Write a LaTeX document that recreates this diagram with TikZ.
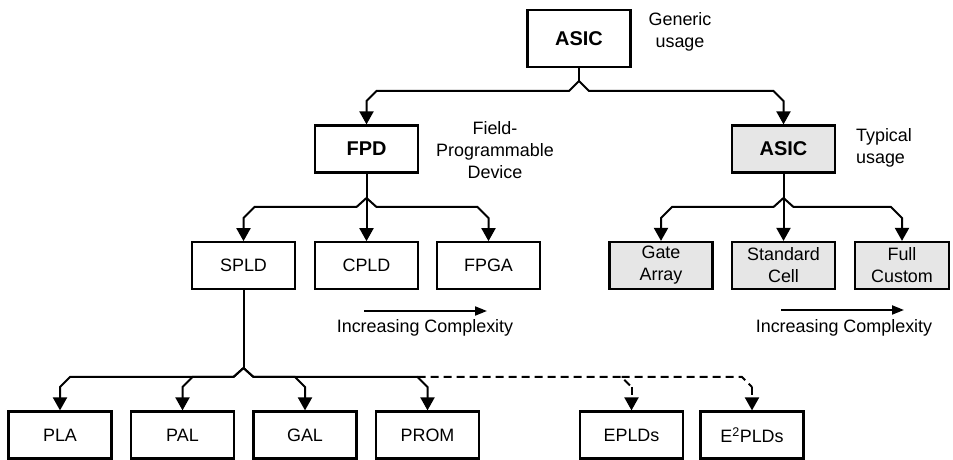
\documentclass[tikz,border=0pt]{standalone}
\usepackage{fontspec}
\setmainfont{Liberation Sans}
\usetikzlibrary{arrows.meta}
\definecolor{boxgray}{RGB}{230,230,230}
\tikzset{
  box/.style={draw=black, line width=2.2bp, minimum width=103bp, minimum height=47bp, inner sep=0pt,
    font=\fontsize{18}{22}\selectfont, align=center},
  thinbox/.style={box, line width=1.7bp},
  bigbox/.style={box, font=\fontsize{20}{24}\selectfont\bfseries},
  grayfill/.style={fill=boxgray},
  conn/.style={line width=2bp, line join=miter},
  tipped/.style={conn, -{Triangle[length=13bp,width=14bp]}},
  dconn/.style={conn, dash pattern=on 8bp off 5bp},
  dtipped/.style={dconn, -{Triangle[length=13bp,width=14bp]}},
  lbl/.style={font=\fontsize{18}{22}\selectfont, align=center, inner sep=0pt},
  cplx/.style={line width=2bp, -{Triangle[length=12bp,width=9bp]}}
}
\begin{document}
\begin{tikzpicture}[x=1bp,y=-1bp]
\useasboundingbox (0,0) rectangle (953,460);
% top level
\node[bigbox, minimum height=57bp] (asic) at (579,38.5) {ASIC};
\node[lbl] (generic) at (680,32) {Generic\\usage};
% second level
\node[bigbox] (fpd) at (366.5,149) {FPD};
\node[lbl] (fpdlbl) at (495,150) {Field-\\Programmable\\Device};
\node[bigbox, grayfill] (asic2) at (783.5,149) {ASIC};
\node[lbl, align=left] (typical) at (884,148) {Typical\\usage};
% third level
\node[thinbox] (spld) at (243.5,265.5) {SPLD};
\node[thinbox] (cpld) at (366.5,265.5) {CPLD};
\node[thinbox] (fpga) at (488.5,265.5) {FPGA};
\node[box, grayfill] (gate) at (661,265.5) {Gate\\Array};
\node[box, grayfill] (std) at (783.5,265.5) {Standard\\Cell};
\node[box, grayfill, minimum width=94bp] (full) at (902,265.5) {Full\\Custom};
% fourth level
\node[box] (pla) at (60,435) {PLA};
\node[box] (pal) at (182.5,435) {PAL};
\node[box] (gal) at (305,435) {GAL};
\node[box] (prom) at (427.5,435) {PROM};
\node[box] (epld) at (631.5,435) {EPLDs};
\node[box] (e2pld) at (752,435) {E\textsuperscript{2}PLDs};
% top connectors
\coordinate (j0) at (579,81);
\draw[conn] (asic.south) -- (j0);
\draw[tipped] (j0) -- (569,91) -- (376.5,91) -- (366.5,101) -- (fpd.north);
\draw[tipped] (j0) -- (589,91) -- (773.5,91) -- (783.5,101) -- (asic2.north);
% FPD connectors
\coordinate (j1) at (366.5,198);
\draw[conn] (fpd.south) -- (j1);
\draw[tipped] (j1) -- (356.5,207) -- (254.5,207) -- (243.5,218) -- (spld.north);
\draw[tipped] (j1) -- (cpld.north);
\draw[tipped] (j1) -- (376.5,207) -- (477.5,207) -- (488.5,218) -- (fpga.north);
% ASIC connectors
\coordinate (j2) at (783.5,198);
\draw[conn] (asic2.south) -- (j2);
\draw[tipped] (j2) -- (773.5,207) -- (672,207) -- (661,218) -- (gate.north);
\draw[tipped] (j2) -- (std.north);
\draw[tipped] (j2) -- (793.5,207) -- (891,207) -- (902,218) -- (full.north);
% SPLD connectors
\coordinate (j3) at (243.5,368);
\draw[conn] (spld.south) -- (j3);
\draw[tipped] (j3) -- (233.5,377) -- (70,377) -- (60,387) -- (pla.north);
\draw[tipped] (j3) -- (233.5,377) -- (192.5,377) -- (182.5,387) -- (pal.north);
\draw[tipped] (j3) -- (253.5,377) -- (295,377) -- (305,387) -- (gal.north);
\draw[tipped] (j3) -- (253.5,377) -- (417.5,377) -- (427.5,387) -- (prom.north);
\coordinate (d0) at (417.5,377);
\draw[dconn] (d0) -- (621.5,377) -- (631.5,387);
\draw[dtipped] (631.5,387) -- (epld.north);
\draw[dconn] (621.5,377) -- (742,377) -- (752,387);
\draw[dtipped] (752,387) -- (e2pld.north);
% complexity arrows
\coordinate (c1a) at (364,311); \coordinate (c1b) at (487,311);
\draw[cplx] (c1a) -- (c1b);
\node[lbl] (ic1) at (425,328) {Increasing Complexity};
\coordinate (c2a) at (781,310); \coordinate (c2b) at (904,310);
\draw[cplx] (c2a) -- (c2b);
\node[lbl] (ic2) at (844,328) {Increasing Complexity};
\end{tikzpicture}
\end{document}
